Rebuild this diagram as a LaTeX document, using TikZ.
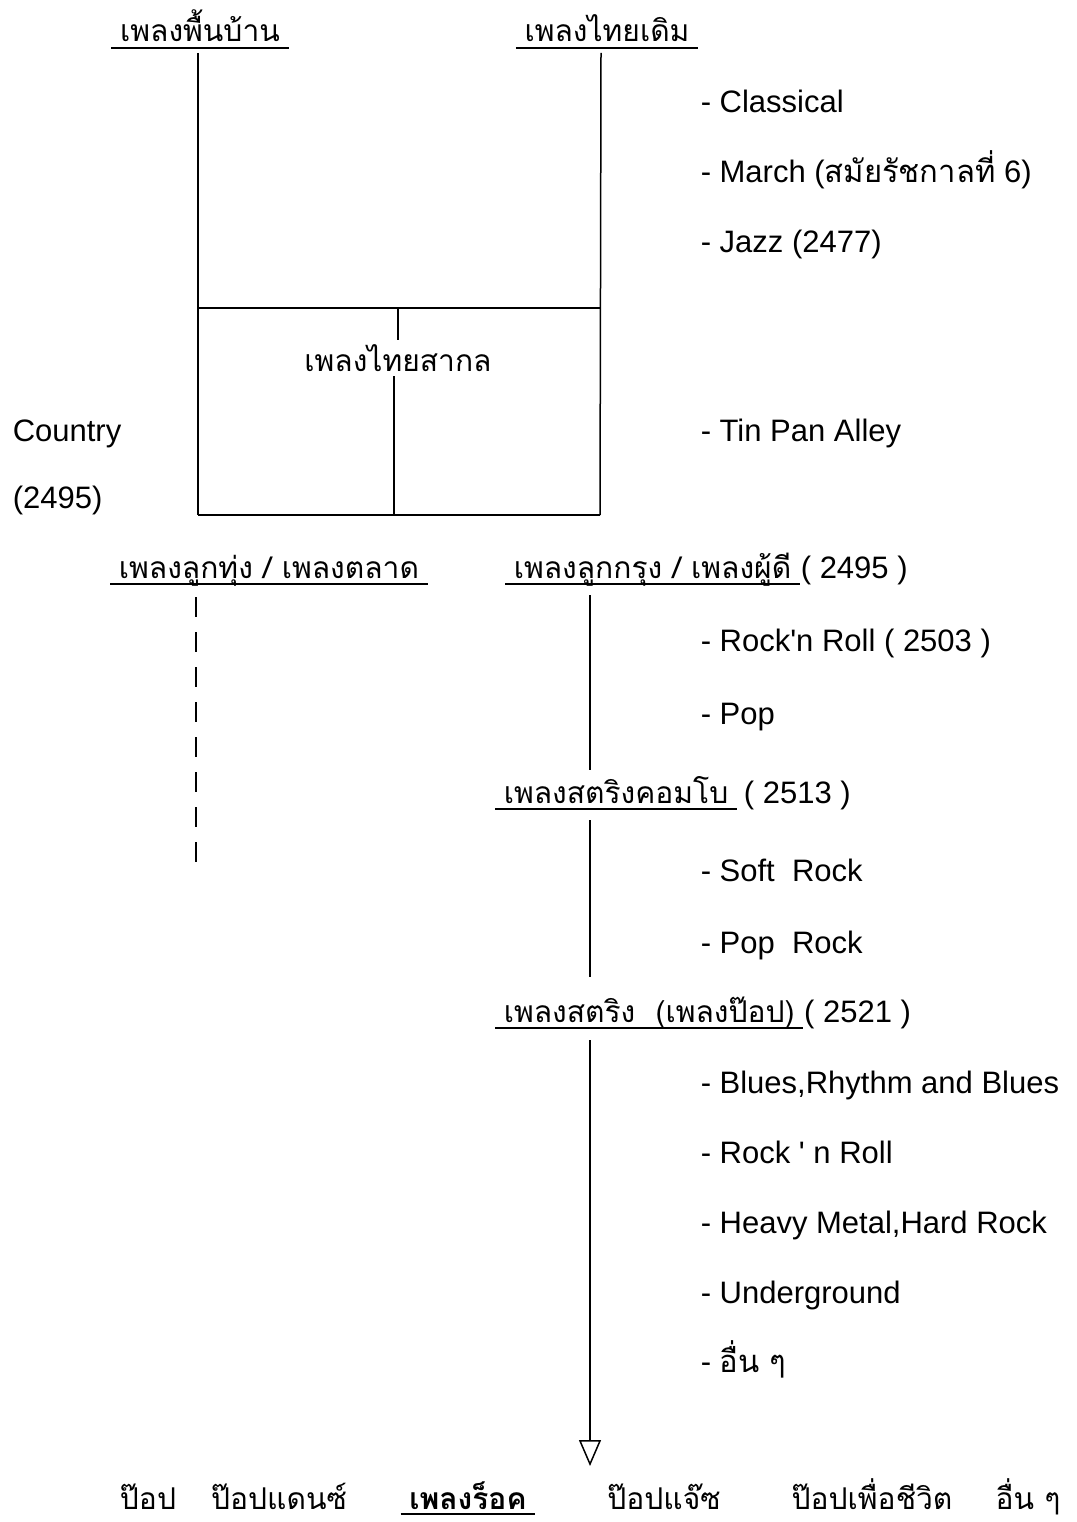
\documentclass[tikz,border=0pt]{standalone}
\usepackage{fontspec}
\setmainfont{Liberation Sans}
\newfontfamily\thaifont[Script=Thai]{Loma}
\newcommand{\thai}[1]{{\thaifont #1}}
\usetikzlibrary{calc,positioning,arrows.meta}

\begin{document}
\begin{tikzpicture}[x=1pt,y=-1pt,line width=1.5pt]

	\tikzset{
		lbl/.style={inner sep=0pt,font=\fontsize{31}{36}\selectfont},
		hd/.style={inner xsep=8pt,inner ysep=0pt,font=\fontsize{30}{36}\selectfont\thaifont},
		ul/.style={line width=1.4pt},
		dashline/.style={line width=1.5pt,dash pattern=on 20pt off 15pt}
	}

	\useasboundingbox (0,0) rectangle (1076,1522);

	% headings
	\node[hd,anchor=base] (folk) at (200,42) {เพลงพื้นบ้าน};
	\node[hd,anchor=base] (classic) at (607,42) {เพลงไทยเดิม};
	\node[hd,inner sep=4pt] (intl) at (398,358) {เพลงไทยสากล};
	\node[hd,anchor=base] (luktung) at (269,578) {เพลงลูกทุ่ง / เพลงตลาด};
	\node[hd,anchor=base west] (lukkrung) at (505,578) {เพลงลูกกรุง / เพลงผู้ดี};
	\node[lbl,anchor=base west] (lukkrungyr) at (lukkrung.base east) {( 2495 )};
	\node[hd,anchor=base west] (combo) at (495,803) {เพลงสตริงคอมโบ};
	\node[lbl,anchor=base west] (comboyr) at ($(combo.base east)+(6,0)$) {( 2513 )};
	\node[hd,anchor=base west] (string) at (495,1022) {เพลงสตริง~~(เพลงป๊อป)};
	\node[lbl,anchor=base west] (stringyr) at (string.base east) {( 2521 )};

	\foreach \n in {folk,classic,luktung,lukkrung,combo,string} {
			\draw[ul] ([yshift=-6pt]\n.base west) -- ([yshift=-6pt]\n.base east);
		}

	\node[lbl,anchor=base west] (country) at (12,441) {Country};
	\node[lbl,anchor=base west] (countryyr) at (12,508) {(2495)};

	% box
	\coordinate (tl) at (198,308);
	\coordinate (tr) at (601,308);
	\coordinate (bl) at (198,515);
	\coordinate (br) at (600,515);
	\coordinate (bm) at (394,515);

	\draw ($(folk.base -| bl)+(0,11)$) -- (bl);
	\draw ($(classic.base -| tr)+(0,11)$) -- (br);
	\draw (tl) -- (tr);
	\draw (bl) -- (br);
	\draw (tl -| intl) -- (intl.north);
	\draw (intl.south -| bm) -- (bm);

	% lines down
	\coordinate (lt) at (196,862);
	\coordinate (tip) at (590,1466);
	\draw[dashline] ($(luktung.base -| lt)+(0,19)$) -- (lt);
	\draw ($(lukkrung.base -| tip)+(0,17)$) -- ($(combo.base -| tip)+(0,-33)$);
	\draw ($(combo.base -| tip)+(0,17)$) -- ($(string.base -| tip)+(0,-45)$);
	\draw[-{Triangle[open,length=26pt,width=22pt,line width=1.5pt]}] ($(string.base -| tip)+(0,18)$) -- (tip);

	% list items
	\foreach \y/\t [count=\i] in {113/Classical, 183/{March (\thai{สมัยรัชกาลที่} 6)}, 253/Jazz (2477),
			441/Tin Pan Alley, 651/Rock\textquotesingle n Roll ( 2503 ), 724/Pop, 881/Soft~~Rock, 953/Pop~~Rock,
			1093/{Blues,Rhythm and Blues}, 1163/Rock \textquotesingle{} n Roll, 1233/{Heavy Metal,Hard Rock},
			1303/Underground, 1372/\thai{อื่น ๆ}} {
			\node[lbl,anchor=base west] (it\i) at (700,\y) {- \t};
		}

	% bottom row
	\foreach \x/\t/\n in {148/ป๊อป/pop, 279/ป๊อปแดนซ์/popdance, 664/ป๊อปแจ๊ซ/popjazz,
			872/ป๊อปเพื่อชีวิต/poplife, 1028/อื่น ๆ/others} {
			\node[hd,anchor=base] (\n) at (\x,1509) {\t};
		}
	\node[hd,anchor=base,font=\fontsize{30}{36}\selectfont\thaifont\bfseries] (rock) at (468,1509) {เพลงร็อค};
	\draw[ul] ([yshift=-5pt]rock.base west) -- ([yshift=-5pt]rock.base east);

\end{tikzpicture}
\end{document}
